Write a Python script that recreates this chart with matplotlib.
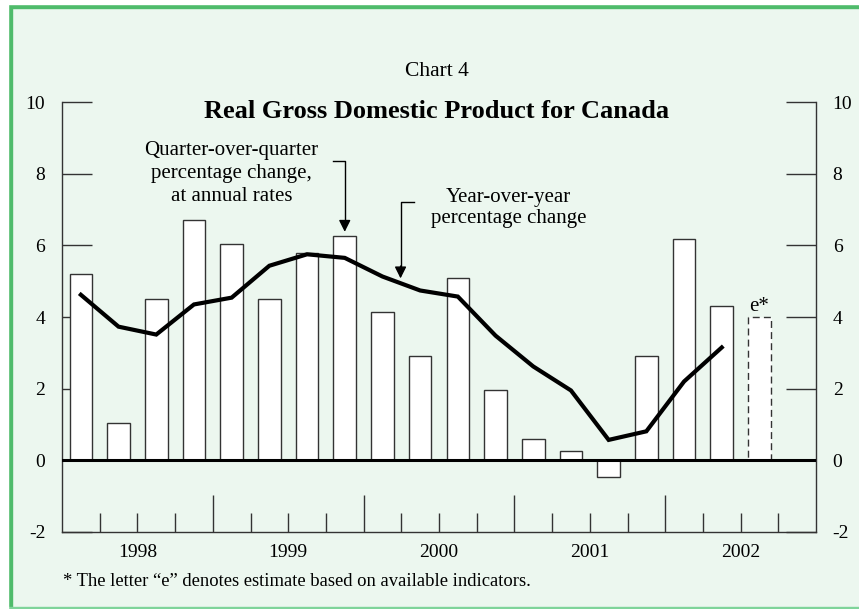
import numpy as np
import matplotlib.pyplot as plt
from matplotlib.patches import Rectangle

plt.rcParams['font.family'] = ['Liberation Serif', 'DejaVu Serif']

# quarterly data, 1998Q1 .. 2002Q3
qoq = [5.2, 1.05, 4.5, 6.7, 6.05, 4.5, 5.8, 6.25, 4.15, 2.9, 5.1, 1.95,
       0.6, 0.27, -0.47, 2.92, 6.18, 4.3]
qoq_estimate = 4.0
yoy = [4.62, 3.73, 3.51, 4.35, 4.54, 5.43, 5.75, 5.65, 5.13, 4.74, 4.57,
       3.48, 2.62, 1.95, 0.57, 0.81, 2.2, 3.15]
years = ['1998', '1999', '2000', '2001', '2002']
yticks = [-2, 0, 2, 4, 6, 8, 10]

bg = '#ecf7ef'
green = '#4fbb6b'

fig = plt.figure(figsize=(8.59, 6.09), dpi=100, facecolor=bg)
ax = fig.add_axes([62 / 859, 1 - 532 / 609, (816 - 62) / 859, (532 - 102) / 609])
ax.set_facecolor(bg)

x = np.arange(len(qoq)) + 0.5
ax.bar(x, qoq, width=0.6, color='white', edgecolor='#333333', linewidth=1.0, zorder=2)
ax.bar(len(qoq) + 0.5, qoq_estimate, width=0.6, color='white', edgecolor='#333333',
       linewidth=1.0, linestyle=(0, (5, 3)), zorder=2)
ax.plot(x, yoy, color='black', linewidth=3, zorder=4, solid_joinstyle='miter')
ax.axhline(0, color='black', linewidth=2.2, zorder=3)

ax.set_xlim(0, 20)
ax.set_ylim(-2, 10)
ax.spines['top'].set_visible(False)
for s in ['left', 'right', 'bottom']:
    ax.spines[s].set_color('#333333')
    ax.spines[s].set_linewidth(1.0)

ax.set_yticks(yticks)
ax.set_yticklabels([str(v) for v in yticks])
ax.tick_params(axis='y', direction='in', length=21.5, width=1.0, color='#333333',
               left=True, right=True, labelleft=True, labelright=True,
               labelsize=14, pad=12)

ax.set_xticks([4, 8, 12, 16])
ax.set_xticks([q for q in range(1, 20) if q % 4 != 0], minor=True)
ax.tick_params(axis='x', which='major', direction='in', length=27, width=1.0,
               color='#333333', labelbottom=False)
ax.tick_params(axis='x', which='minor', direction='in', length=13.5, width=1.0,
               color='#333333', labelbottom=False)
for i, yr in enumerate(years):
    ax.text(4 * i + 2, -2.57, yr, ha='center', va='center', fontsize=14)

ax.text(len(qoq) + 0.5, 4.3, 'e*', ha='center', va='center', fontsize=15)

# annotations
ax.text(4.5, 8.0, 'Quarter-over-quarter\npercentage change,\nat annual rates',
        ha='center', va='center', fontsize=15, linespacing=1.28)
ax.plot([7.2, 7.5, 7.5], [8.35, 8.35, 6.6], color='black', linewidth=1.0)
ax.annotate('', xy=(7.5, 6.3), xytext=(7.5, 6.7),
            arrowprops=dict(arrowstyle='-|>,head_width=0.35,head_length=0.7',
                            color='black', lw=1.0))
ax.text(11.85, 7.05, 'Year-over-year\npercentage change',
        ha='center', va='center', fontsize=15, linespacing=1.12)
ax.plot([9.35, 8.98, 8.98], [7.2, 7.2, 5.4], color='black', linewidth=1.0)
ax.annotate('', xy=(8.98, 5.0), xytext=(8.98, 5.5),
            arrowprops=dict(arrowstyle='-|>,head_width=0.35,head_length=0.7',
                            color='black', lw=1.0))

fig.text(437 / 859, 1 - 72 / 609, 'Chart 4', ha='center', va='center', fontsize=15.5)
fig.text(437 / 859, 1 - 111 / 609, 'Real Gross Domestic Product for Canada',
         ha='center', va='center', fontsize=19, fontweight='bold')
fig.text(63 / 859, 1 - 581 / 609,
         '* The letter \u201ce\u201d denotes estimate based on available indicators.',
         ha='left', va='center', fontsize=13.4)

# green frame
fig.patches.append(Rectangle((8 / 859, 0), 4 / 859, 1 - 4 / 609, transform=fig.transFigure,
                             color=green, zorder=0))
fig.patches.append(Rectangle((8 / 859, 1 - 8 / 609), 1, 4 / 609, transform=fig.transFigure,
                             color=green, zorder=0))
fig.patches.append(Rectangle((8 / 859, 0), 1, 2 / 609, transform=fig.transFigure,
                             color='#7fd49a', zorder=0))
fig.patches.append(Rectangle((0, 0), 8 / 859, 1, transform=fig.transFigure,
                             color='white', zorder=0))
fig.patches.append(Rectangle((0, 1 - 4 / 609), 1, 4 / 609, transform=fig.transFigure,
                             color='white', zorder=0))

fig.savefig('out.png', dpi=100, facecolor=bg)
